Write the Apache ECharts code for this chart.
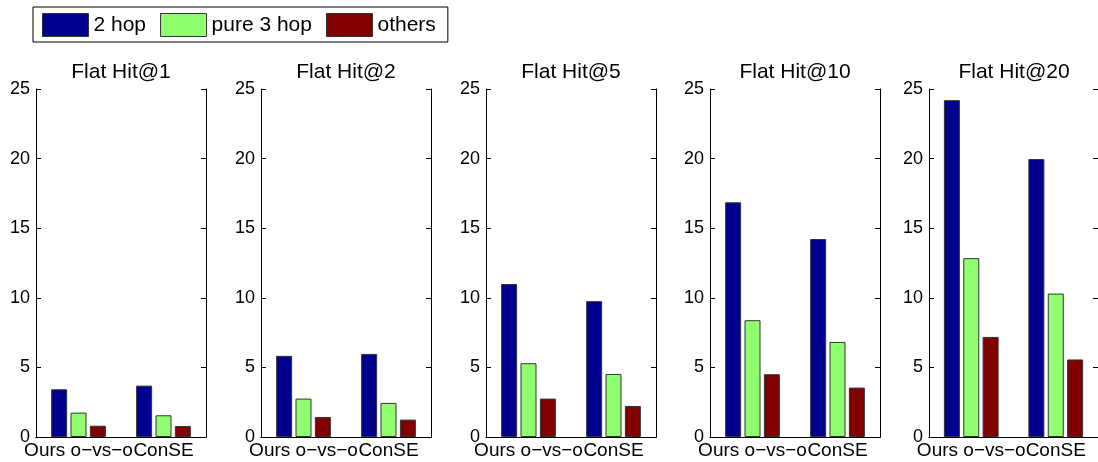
<!DOCTYPE html>
<html>
<head>
<meta charset="utf-8">
<script src="https://cdn.jsdelivr.net/npm/echarts@6/dist/echarts.min.js"></script>
<style>html,body{margin:0;padding:0;background:#fff;}#c{width:1098px;height:462px;}</style>
</head>
<body>
<div id="c"></div>
<script>
const categories = ['Ours o\u2212vs\u2212o', 'ConSE'];
const panelTitles = ['Flat Hit@1', 'Flat Hit@2', 'Flat Hit@5', 'Flat Hit@10', 'Flat Hit@20'];
const seriesNames = ['2 hop', 'pure 3 hop', 'others'];
const yTicks = [0, 5, 10, 15, 20, 25];
// values per panel (Hit@1, @2, @5, @10, @20)
const hop2Ours    = [3.43, 5.83, 10.99, 16.86, 24.2];
const hop2ConSE   = [3.69, 5.97, 9.76, 14.22, 19.97];
const pure3Ours   = [1.75, 2.76, 5.30, 8.39, 12.85];
const pure3ConSE  = [1.56, 2.45, 4.53, 6.83, 10.3];
const othersOurs  = [0.81, 1.44, 2.76, 4.51, 7.19];
const othersConSE = [0.79, 1.25, 2.23, 3.55, 5.57];

const colors = ['#00008F', '#8FFF70', '#800000'];
const FONT = 'Liberation Sans, Arial, Helvetica, sans-serif';
const gridLefts = [36, 261, 486, 710, 929];
const gridW = 170, gridTop = 89, gridH = 348;

const grids = [], xAxes = [], yAxes = [], series = [], titles = [];
const valueSets = [[hop2Ours, hop2ConSE], [pure3Ours, pure3ConSE], [othersOurs, othersConSE]];

gridLefts.forEach((l, i) => {
  grids.push({left: l, top: gridTop, width: gridW, height: gridH, containLabel: false});
  titles.push({
    text: panelTitles[i], left: l + gridW / 2, top: 62, textAlign: 'center', padding: 0,
    textStyle: {fontFamily: FONT, fontSize: 21, fontWeight: 'normal', color: '#000'}
  });
  xAxes.push({
    type: 'category', gridIndex: i, data: categories, position: 'bottom',
    axisLine: {lineStyle: {color: '#000', width: 1}},
    axisTick: {inside: true, alignWithLabel: true, length: 5, lineStyle: {color: '#000'}},
    axisLabel: {color: '#000', fontFamily: FONT, fontSize: 19, margin: 4, interval: 0},
    splitLine: {show: false}
  });
  xAxes.push({
    type: 'category', gridIndex: i, data: categories, position: 'top',
    axisLine: {lineStyle: {color: '#000', width: 1}},
    axisTick: {inside: true, alignWithLabel: true, length: 5, lineStyle: {color: '#000'}},
    axisLabel: {show: false}, splitLine: {show: false}
  });
  yAxes.push({
    type: 'value', gridIndex: i, min: 0, max: 25, interval: 5, position: 'left',
    axisLine: {show: true, lineStyle: {color: '#000', width: 1}},
    axisTick: {show: true, inside: true, length: 5, lineStyle: {color: '#000'}},
    axisLabel: {color: '#000', fontFamily: FONT, fontSize: 18, margin: 6,
      formatter: v => yTicks.includes(v) ? String(v) : ''},
    splitLine: {show: false}
  });
  yAxes.push({
    type: 'value', gridIndex: i, min: 0, max: 25, interval: 5, position: 'right',
    axisLine: {show: true, lineStyle: {color: '#000', width: 1}},
    axisTick: {show: true, inside: true, length: 5, lineStyle: {color: '#000'}},
    axisLabel: {show: false}, splitLine: {show: false}
  });
  seriesNames.forEach((name, s) => {
    series.push({
      name: name, type: 'bar', xAxisIndex: i * 2, yAxisIndex: i * 2,
      data: [valueSets[s][0][i], valueSets[s][1][i]],
      barWidth: 16, barGap: '21%',
      itemStyle: {color: colors[s], borderColor: '#333', borderWidth: 1},
      emphasis: {disabled: true}
    });
  });
});

const chart = echarts.init(document.getElementById('c'), null, {renderer: 'canvas'});
chart.setOption({
  animation: false,
  backgroundColor: '#fff',
  title: titles,
  legend: {
    data: seriesNames, left: 33, top: 7, orient: 'horizontal',
    padding: [6, 12, 5, 9], itemWidth: 46, itemHeight: 23, itemGap: 14,
    borderColor: '#000', borderWidth: 1, icon: 'rect',
    textStyle: {fontFamily: FONT, fontSize: 21, color: '#000'},
    itemStyle: {borderColor: '#333', borderWidth: 1}
  },
  grid: grids, xAxis: xAxes, yAxis: yAxes, series: series
});
</script>
</body>
</html>
